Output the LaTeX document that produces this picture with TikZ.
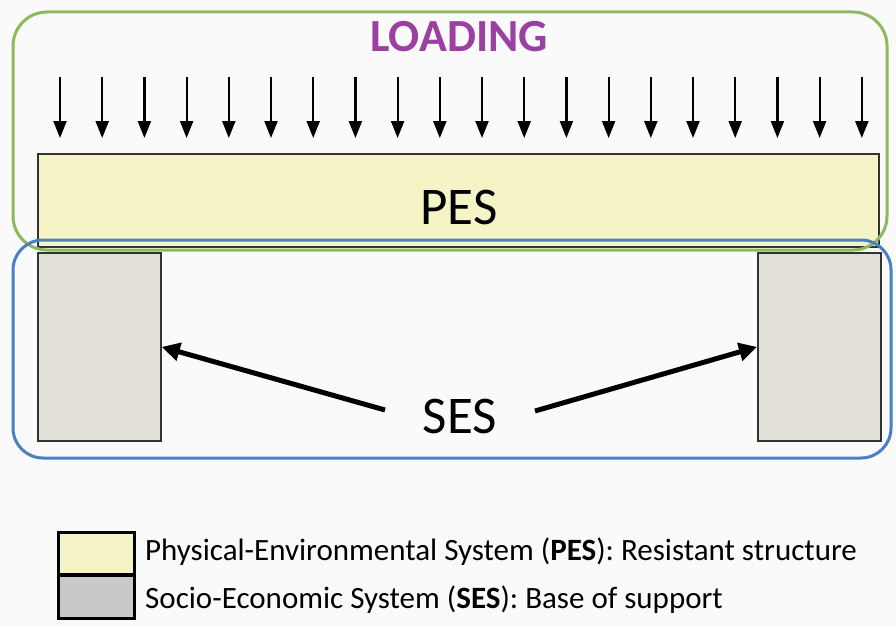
\documentclass[tikz,border=0pt]{standalone}
\usepackage{fontspec}
\setmainfont{Carlito}
\usetikzlibrary{arrows.meta}
\definecolor{pesfill}{HTML}{F5F4C6}
\definecolor{colfill}{HTML}{E2E0D6}
\definecolor{legfill}{HTML}{C9C9C9}
\definecolor{grn}{HTML}{8DBA5C}
\definecolor{blu}{HTML}{4B7FBF}
\definecolor{purp}{HTML}{9B3FA3}
\tikzset{
  pesbox/.style={draw=black!80, line width=1.8pt, fill=pesfill},
  colbox/.style={draw=black!80, line width=1.8pt, fill=colfill},
  loadarrow/.style={line width=2.2pt, -{Triangle[width=13pt,length=17pt]}},
  sesarrow/.style={line width=5pt, -{Triangle[width=18pt,length=18pt]}},
  legbox/.style={draw=black, line width=2.8pt},
  legtext/.style={anchor=west, font=\fontsize{31}{34}\selectfont, inner sep=0pt},
  bigtext/.style={font=\fontsize{53}{56}\selectfont, inner sep=0pt}
}
\begin{document}
\begin{tikzpicture}[x=1pt,y=-1pt]
\useasboundingbox (0,0) rectangle (896,626);
\fill[white!98!black] (0,0) rectangle (896,626);
% PES bar
\node[pesbox, minimum width=841pt, minimum height=93pt, anchor=north west, inner sep=0pt] (pes) at (37,153) {};
\node[bigtext] (pestext) at (459,207) {PES};
% columns
\node[colbox, minimum width=123pt, minimum height=188pt, anchor=north west, inner sep=0pt] (colL) at (37,252) {};
\node[colbox, minimum width=123pt, minimum height=188pt, anchor=north west, inner sep=0pt] (colR) at (757,252) {};
% outlines
\draw[grn, line width=3pt, rounded corners=34pt] (13,12) rectangle (887,250);
\draw[blu, line width=3pt, rounded corners=30pt] (13,240) rectangle (891,458);
% loading
\node[font=\fontsize{46}{50}\selectfont\bfseries, text=purp, inner sep=0pt] (loading) at (459,37) {LOADING};
\foreach \i in {0,...,19} {
  \coordinate (t\i) at ({60+\i*42.2},77);
  \coordinate (b\i) at ({60+\i*42.2},138);
  \draw[loadarrow] (t\i) -- (b\i);
}
% SES
\node[bigtext] (ses) at (460,416) {SES};
\coordinate (aL) at (385,410);
\coordinate (aR) at (535,411);
\draw[sesarrow] (aL) -- (colL.east);
\draw[sesarrow] (aR) -- (colR.west);
% legend
\node[legbox, fill=pesfill, minimum width=76pt, minimum height=42pt, anchor=north west, inner sep=0pt] (lg1) at (57,531) {};
\node[legbox, fill=legfill, minimum width=76pt, minimum height=43pt, anchor=north west, inner sep=0pt] (lg2) at (57,574) {};
\node[legtext] (lt1) at (145,552) {Physical-Environmental System (\textbf{PES}): Resistant structure};
\node[legtext] (lt2) at (145,600) {Socio-Economic System (\textbf{SES}): Base of support};
\end{tikzpicture}
\end{document}
